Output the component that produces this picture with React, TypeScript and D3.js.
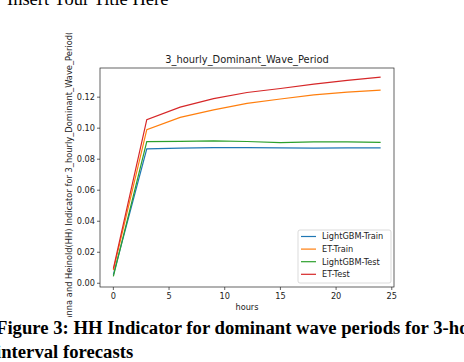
import React from "react";
import * as d3 from "d3";

const hours = [0, 3, 6, 9, 12, 15, 18, 21, 24];
const lgbmTrain = [0.0055, 0.0866, 0.0872, 0.0875, 0.0874, 0.0873, 0.0872, 0.0873, 0.0873];
const etTrain = [0.0085, 0.099, 0.107, 0.1118, 0.116, 0.1188, 0.1215, 0.1233, 0.1245];
const lgbmTest = [0.0045, 0.0913, 0.0915, 0.0918, 0.0914, 0.0907, 0.0912, 0.0912, 0.0909];
const etTest = [0.0094, 0.1055, 0.1136, 0.119, 0.123, 0.1256, 0.1284, 0.1308, 0.1329];

const seriesNames = ["LightGBM-Train", "ET-Train", "LightGBM-Test", "ET-Test"];
const seriesColors = ["#1f77b4", "#ff7f0e", "#2ca02c", "#d62728"];
const seriesValues = [lgbmTrain, etTrain, lgbmTest, etTest];

const xTicks = [0, 5, 10, 15, 20, 25];
const yTicks = [0, 0.02, 0.04, 0.06, 0.08, 0.1, 0.12];

const W = 464;
const H = 362;
const plot = { left: 100, right: 394, top: 68, bottom: 287 };
const chartFont = "DejaVu Sans, sans-serif";
const fs = 8.2;

export default function App() {
  const x = d3.scaleLinear().domain([-1.2, 25.2]).range([plot.left, plot.right]);
  const y = d3.scaleLinear().domain([-0.0024, 0.1388]).range([plot.bottom, plot.top]);

  const line = d3
    .line<number>()
    .x((_, i) => x(hours[i]))
    .y((d) => y(d));

  const legend = { x: 298, y: 230, w: 93, h: 53 };
  const cx = (plot.left + plot.right) / 2;
  const cy = (plot.top + plot.bottom) / 2;

  return (
    <svg
      width={W}
      height={H}
      style={{ position: "absolute", left: 0, top: 0, background: "#fff" }}
    >
      <defs>
        <clipPath id="figclip">
          <rect x={0} y={33} width={W} height={284} />
        </clipPath>
      </defs>

      {/* page text */}
      <text x={7} y={5} fontFamily="Liberation Serif, serif" fontSize={18.5} fill="#000">
        Insert Your Title Here
      </text>
      <text
        x={-4}
        y={334}
        fontFamily="Liberation Serif, serif"
        fontWeight="bold"
        fontSize={18.7}
        fill="#000"
      >
        Figure 3: HH Indicator for dominant wave periods for 3-hourly
      </text>
      <text
        x={-4}
        y={358}
        fontFamily="Liberation Serif, serif"
        fontWeight="bold"
        fontSize={18.7}
        fill="#000"
      >
        interval forecasts
      </text>

      {/* series */}
      {seriesValues.map((vals, i) => (
        <path
          key={seriesNames[i]}
          d={line(vals) ?? ""}
          fill="none"
          stroke={seriesColors[i]}
          strokeWidth={1.2}
        />
      ))}

      {/* frame */}
      <rect
        x={plot.left}
        y={plot.top}
        width={plot.right - plot.left}
        height={plot.bottom - plot.top}
        fill="none"
        stroke="#222"
        strokeWidth={0.7}
      />

      {/* y axis */}
      {yTicks.map((t) => (
        <g key={t}>
          <line x1={plot.left - 3} x2={plot.left} y1={y(t)} y2={y(t)} stroke="#222" strokeWidth={0.7} />
          <text
            x={plot.left - 5}
            y={y(t)}
            dy="0.35em"
            textAnchor="end"
            fontFamily={chartFont}
            fontSize={fs}
            fill="#222"
          >
            {t.toFixed(2)}
          </text>
        </g>
      ))}

      {/* x axis */}
      {xTicks.map((t) => (
        <g key={t}>
          <line x1={x(t)} x2={x(t)} y1={plot.bottom} y2={plot.bottom + 3} stroke="#222" strokeWidth={0.7} />
          <text
            x={x(t)}
            y={plot.bottom + 12}
            textAnchor="middle"
            fontFamily={chartFont}
            fontSize={fs}
            fill="#222"
          >
            {t}
          </text>
        </g>
      ))}
      <text x={cx} y={310} textAnchor="middle" fontFamily={chartFont} fontSize={fs} fill="#222">
        hours
      </text>

      <g clipPath="url(#figclip)">
        <text
          transform={`translate(72,${cy - 2}) rotate(-90)`}
          textAnchor="middle"
          fontFamily={chartFont}
          fontSize={8.3}
          fill="#222"
        >
          Hanna and Heinold(HH) Indicator for 3_hourly_Dominant_Wave_Period(s)
        </text>
      </g>

      <text x={cx} y={plot.top - 5} textAnchor="middle" fontFamily={chartFont} fontSize={9.9} fill="#222">
        3_hourly_Dominant_Wave_Period
      </text>

      {/* legend */}
      <rect
        x={legend.x}
        y={legend.y}
        width={legend.w}
        height={legend.h}
        rx={2}
        fill="#fff"
        fillOpacity={0.8}
        stroke="#ccc"
        strokeWidth={0.7}
      />
      {seriesNames.map((name, i) => {
        const ly = legend.y + 6.5 + i * 12.6;
        return (
          <g key={name}>
            <line x1={legend.x + 3} x2={legend.x + 18} y1={ly} y2={ly} stroke={seriesColors[i]} strokeWidth={1.2} />
            <text
              x={legend.x + 24}
              y={ly}
              dy="0.35em"
              fontFamily={chartFont}
              fontSize={fs}
              fill="#222"
            >
              {name}
            </text>
          </g>
        );
      })}
    </svg>
  );
}
